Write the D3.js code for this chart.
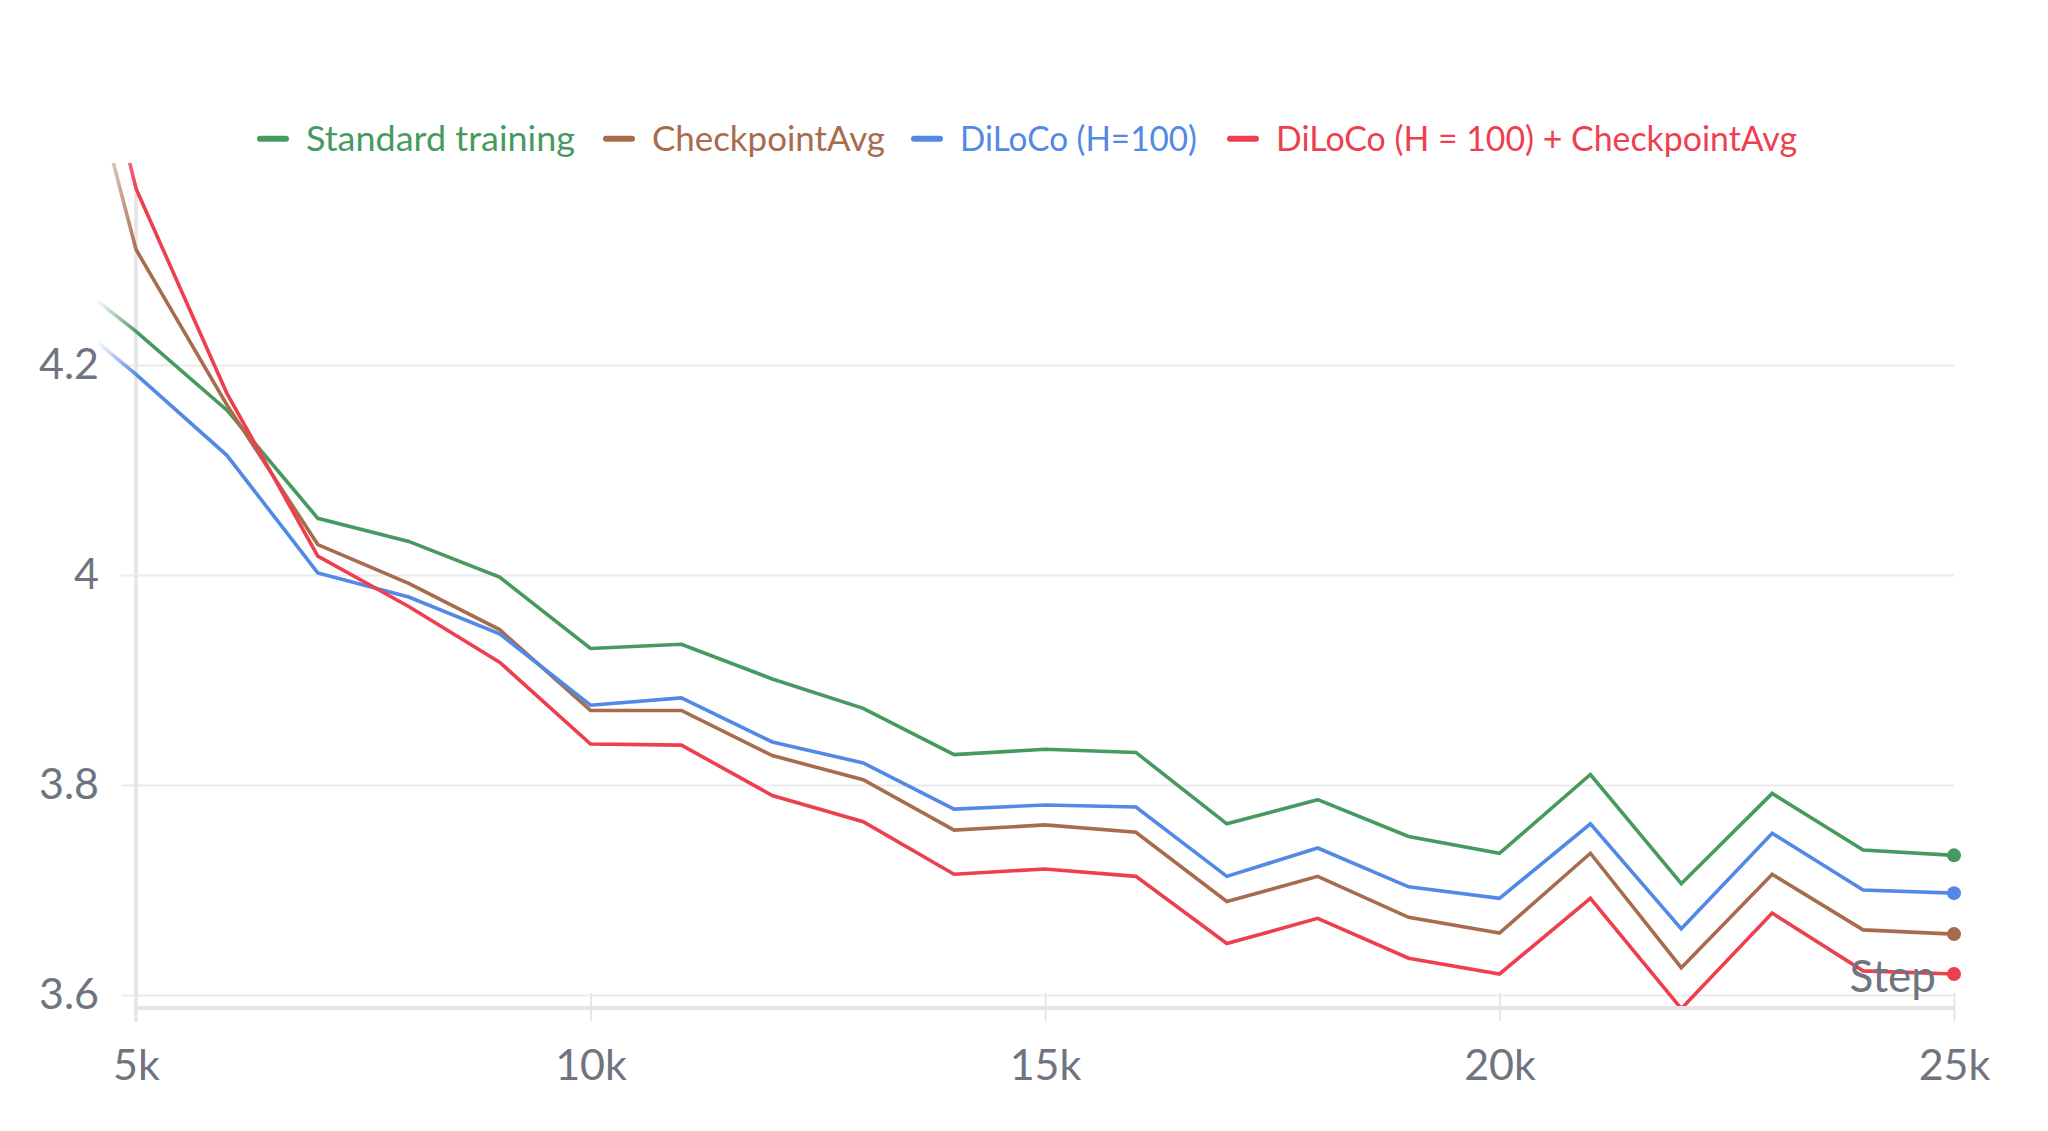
<!DOCTYPE html>
<html>
<head>
<meta charset="utf-8">
<script src="https://cdn.jsdelivr.net/npm/d3@7"></script>
<style>
  html, body { margin: 0; padding: 0; background: #ffffff; }
  svg { display: block; }
  text { font-family: Lato, "Noto Sans", sans-serif; }
</style>
</head>
<body>
<svg id="chart" width="2048" height="1131"></svg>
<script>
// ---------------- DATA ----------------
const steps = [4000, 5000, 6000, 7000, 8000, 9000, 10000, 11000, 12000, 13000, 14000,
               15000, 16000, 17000, 18000, 19000, 20000, 21000, 22000, 23000, 24000, 25000];

const seriesNames = ["Standard training", "CheckpointAvg", "DiLoCo (H=100)", "DiLoCo (H = 100) + CheckpointAvg"];

const standardTraining = [4.300, 4.232, 4.157, 4.054, 4.032, 3.998, 3.930, 3.934, 3.901, 3.873, 3.829,
                          3.834, 3.831, 3.763, 3.786, 3.751, 3.735, 3.810, 3.706, 3.792, 3.738, 3.733];
const checkpointAvg    = [4.640, 4.310, 4.162, 4.029, 3.992, 3.948, 3.871, 3.871, 3.828, 3.805, 3.757,
                          3.762, 3.755, 3.689, 3.713, 3.674, 3.659, 3.735, 3.626, 3.715, 3.662, 3.658];
const diloco           = [4.263, 4.191, 4.114, 4.002, 3.979, 3.944, 3.876, 3.883, 3.841, 3.821, 3.777,
                          3.781, 3.779, 3.713, 3.740, 3.703, 3.692, 3.763, 3.663, 3.754, 3.700, 3.697];
const dilocoCkptAvg    = [4.720, 4.368, 4.173, 4.018, 3.970, 3.917, 3.839, 3.838, 3.790, 3.765, 3.715,
                          3.720, 3.713, 3.649, 3.673, 3.635, 3.620, 3.692, 3.587, 3.678, 3.623, 3.620];

const xTickValues = [5000, 10000, 15000, 20000, 25000];
const xTickLabels = ["5k", "10k", "15k", "20k", "25k"];
const yTickValues = [3.6, 3.8, 4.0, 4.2];
const yTickLabels = ["3.6", "3.8", "4", "4.2"];
const xAxisTitle = "Step";

// ---------------- STYLE / LAYOUT ----------------
const colors = ["#479A5F", "#A86C4C", "#5389E6", "#EE3F4F"];
const seriesValues = [standardTraining, checkpointAvg, diloco, dilocoCkptAvg];

const plot = { left: 136, right: 1954, top: 365, bottom: 995 };
const svg = d3.select("#chart");

const x = d3.scaleLinear().domain([5000, 25000]).range([plot.left, plot.right]);
const y = d3.scaleLinear().domain([3.6, 4.2]).range([plot.bottom, plot.top]);

const defs = svg.append("defs");
defs.append("clipPath").attr("id", "plotClip")
  .append("rect").attr("x", 90).attr("y", 163).attr("width", 1870).attr("height", 843);

const grad = defs.append("linearGradient").attr("id", "fadeGrad")
  .attr("gradientUnits", "userSpaceOnUse")
  .attr("x1", 96).attr("x2", 138).attr("y1", 0).attr("y2", 0);
grad.append("stop").attr("offset", 0).attr("stop-color", "#fff").attr("stop-opacity", 0);
grad.append("stop").attr("offset", 1).attr("stop-color", "#fff").attr("stop-opacity", 1);
defs.append("mask").attr("id", "fadeMask")
  .attr("maskUnits", "userSpaceOnUse")
  .attr("x", 0).attr("y", 0).attr("width", 2048).attr("height", 1131)
  .append("rect").attr("x", 0).attr("y", 0).attr("width", 2048).attr("height", 1131)
  .attr("fill", "url(#fadeGrad)");

// ---- Y axis with gridlines ----
const yAxis = d3.axisLeft(y)
  .tickValues(yTickValues)
  .tickFormat((d, i) => yTickLabels[i])
  .tickSize(-(plot.right - 121))
  .tickPadding(22);

const yg = svg.append("g").attr("transform", "translate(121,0)").call(yAxis);
yg.select(".domain").remove();
yg.selectAll(".tick line").attr("stroke", "#ebebee").attr("stroke-width", 2);
yg.selectAll(".tick text")
  .attr("fill", "#6f7480")
  .style("font-size", "43px")
  .style("font-family", "Lato, sans-serif");

// vertical y-axis line
svg.append("line")
  .attr("x1", plot.left).attr("x2", plot.left)
  .attr("y1", 182).attr("y2", 1022)
  .attr("stroke", "#e4e4e8").attr("stroke-width", 3.5);

// ---- X axis ----
const xAxis = d3.axisBottom(x)
  .tickValues(xTickValues)
  .tickFormat((d, i) => xTickLabels[i])
  .tickSize(28)
  .tickPadding(28);
const xg = svg.append("g").attr("transform", "translate(0,993)").call(xAxis);
xg.select(".domain").remove();
xg.selectAll(".tick line").attr("stroke", "#e6e6ea").attr("stroke-width", 2);
xg.selectAll(".tick text")
  .attr("fill", "#6f7480")
  .style("font-size", "43px")
  .style("font-family", "Lato, sans-serif");

// thick bottom axis line
svg.append("line")
  .attr("x1", plot.left).attr("x2", plot.right)
  .attr("y1", 1008).attr("y2", 1008)
  .attr("stroke", "#e3e3e7").attr("stroke-width", 4);

// ---- Lines ----
const line = d3.line()
  .x((d, i) => x(steps[i]))
  .y(d => y(d));

const lineG = svg.append("g")
  .attr("clip-path", "url(#plotClip)")
  .append("g")
  .attr("mask", "url(#fadeMask)");

lineG.selectAll("path.series")
  .data(seriesValues)
  .join("path")
  .attr("class", "series")
  .attr("d", d => line(d))
  .attr("fill", "none")
  .attr("stroke", (d, i) => colors[i])
  .attr("stroke-width", 3.6)
  .attr("stroke-linejoin", "miter");

// end dots
svg.append("g").selectAll("circle")
  .data(seriesValues)
  .join("circle")
  .attr("cx", d => x(steps[steps.length - 1]))
  .attr("cy", d => y(d[d.length - 1]))
  .attr("r", 7)
  .attr("fill", (d, i) => colors[i]);

// x axis title "Step"
svg.append("text")
  .attr("x", 1936).attr("y", 992)
  .attr("text-anchor", "end")
  .attr("fill", "#6f7480")
  .style("font-size", "44px")
  .text(xAxisTitle);

// ---- Legend ----
const legendStart = 258, swatchW = 30, swatchGap = 18;
const legendTextWidths = [269, 233, 237, 521];
const legendItemGaps = [29, 27, 31, 0];
let lx = legendStart;
const legendY = 138.7;
const legend = svg.append("g");
seriesNames.forEach((name, i) => {
  legend.append("line")
    .attr("x1", lx + 2).attr("x2", lx + swatchW - 2)
    .attr("y1", legendY).attr("y2", legendY)
    .attr("stroke", colors[i]).attr("stroke-width", 6)
    .attr("stroke-linecap", "round");
  legend.append("text")
    .attr("x", lx + swatchW + swatchGap)
    .attr("y", 151)
    .attr("fill", colors[i])
    .attr("textLength", legendTextWidths[i])
    .attr("lengthAdjust", "spacingAndGlyphs")
    .style("font-size", "35px")
    .text(name);
  lx += swatchW + swatchGap + legendTextWidths[i] + legendItemGaps[i];
});
</script>
</body>
</html>
